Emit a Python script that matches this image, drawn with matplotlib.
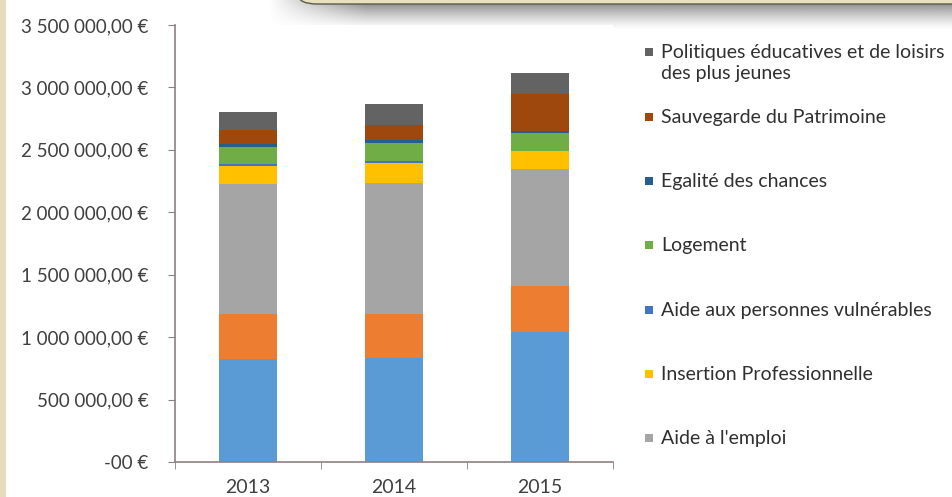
import numpy as np
import matplotlib
matplotlib.use("Agg")
import matplotlib.pyplot as plt
from matplotlib.patches import FancyBboxPatch, Rectangle
from matplotlib.ticker import FuncFormatter

plt.rcParams['font.family'] = ['Lato', 'DejaVu Sans']

years = ["2013", "2014", "2015"]

# stacked from bottom to top
series_names = [
    "Série 1",
    "Série 2",
    "Aide à l'emploi",
    "Insertion Professionnelle",
    "Aide aux personnes vulnérables",
    "Logement",
    "Egalité des chances",
    "Sauvegarde du Patrimoine",
    "Politiques éducatives et de loisirs\ndes plus jeunes",
]
serie_1 = [823000, 831000, 1044000]
serie_2 = [360000, 352000, 366000]
aide_emploi = [1045000, 1050000, 935000]
insertion = [144000, 165000, 142000]
vulnerables = [13000, 16000, 5000]
logement = [134000, 140000, 147000]
egalite = [27000, 26000, 13000]
patrimoine = [114000, 120000, 294000]
politiques = [147000, 166000, 171000]
values = [serie_1, serie_2, aide_emploi, insertion, vulnerables,
          logement, egalite, patrimoine, politiques]

colors = ["#5B9BD5", "#ED7D31", "#A5A5A5", "#FFC000", "#4472C4",
          "#70AD47", "#255E91", "#9E480E", "#636363"]

W, H = 953, 497
fig = plt.figure(figsize=(W / 100, H / 100), dpi=100)
fig.patch.set_facecolor("white")

# beige strip on the left
fig.patches.append(Rectangle((0, 0), 6 / W, 1, transform=fig.transFigure,
                             facecolor="#E4DCBD", edgecolor="none", zorder=0))

# shadow of the box at the top
sh = fig.add_axes([268 / W, 1 - 30 / H, 685 / W, 30 / H])
grad_y = np.linspace(1, 0, 40) ** 1.3
grad_x = np.clip(np.linspace(0, 1, 300) * 7, 0, 1)
alpha = grad_y[:, None] * grad_x[None, :] * 0.85
img = np.zeros((40, 300, 4))
img[..., :3] = 0.40
img[..., 3] = alpha
sh.imshow(img, aspect="auto", extent=(0, 1, 0, 1), interpolation="bilinear")
sh.set_xlim(0, 1)
sh.set_ylim(0, 1)
sh.axis("off")
fig.patches.append(FancyBboxPatch((298 / W, 1 - 4 / H), 700 / W, 30 / H,
                                  boxstyle="round,pad=0,rounding_size=0.02",
                                  transform=fig.transFigure, facecolor="#E9E0BE",
                                  edgecolor="#5a5a50", linewidth=1.0, zorder=3))

ax = fig.add_axes([175 / W, 35 / H, 438 / W, 437 / H])
x = np.arange(len(years))
bottom = np.zeros(len(years))
for name, vals, c in zip(series_names, values, colors):
    ax.bar(x, vals, width=0.4, bottom=bottom, color=c, label=name, linewidth=0)
    bottom += np.array(vals)

ax.set_xlim(-0.5, 2.5)
ax.set_ylim(0, 3500000)
ax.set_yticks(np.arange(0, 3500001, 500000))


def euro(v, pos):
    if v == 0:
        return "-00 €"
    s = f"{int(v):,}".replace(",", " ")
    return s + ",00 €"


ax.yaxis.set_major_formatter(FuncFormatter(euro))
ax.set_xticks(x)
ax.set_xticklabels(years)
ax.set_xticks([-0.5, 0.5, 1.5, 2.5], minor=True)
ax.tick_params(axis="x", which="major", length=0, pad=12, labelsize=14, labelcolor="#404040")
ax.tick_params(axis="x", which="minor", length=5, color="#8c8080", direction="out")
ax.tick_params(axis="y", length=5, color="#8c8080", direction="out", pad=14,
               labelsize=13.5, labelcolor="#404040")
for s in ["top", "right"]:
    ax.spines[s].set_visible(False)
for s in ["left", "bottom"]:
    ax.spines[s].set_color("#8c8080")
    ax.spines[s].set_linewidth(1.2)

# legend, top series first, the two lowest series are not listed
legend_idx = list(range(8, 1, -1))
y_pos = [52] + [117 + 64.2 * k for k in range(len(legend_idx) - 1)]
for idx, yp in zip(legend_idx, y_pos):
    fig.patches.append(Rectangle((645 / W, 1 - (yp + 4) / H), 8 / W, 8 / H,
                                 transform=fig.transFigure, facecolor=colors[idx],
                                 edgecolor="none"))
    fig.text(661 / W, 1 - (yp - 8) / H, series_names[idx], fontsize=14,
             color="#303030", va="top", ha="left", linespacing=1.3)

fig.savefig("out.png", dpi=100)
